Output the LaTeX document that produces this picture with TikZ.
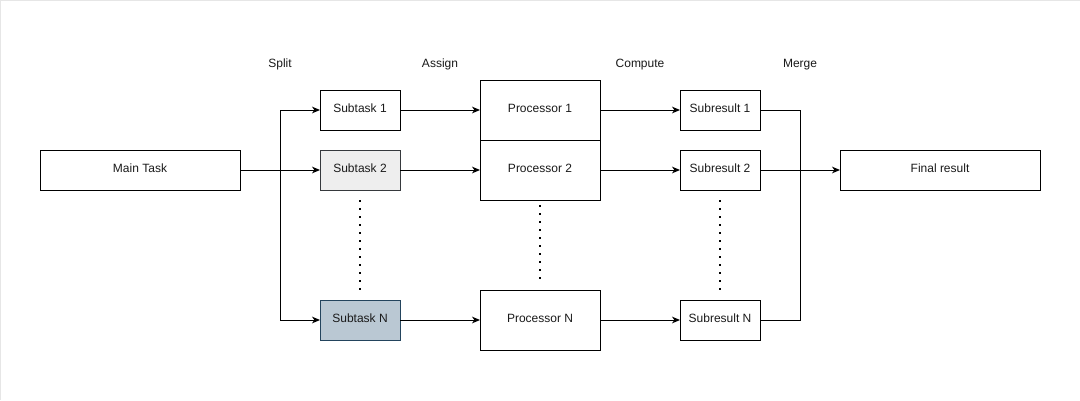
\documentclass[tikz,border=0pt]{standalone}
\usepackage{fontspec}
\setmainfont{Liberation Sans}
\usetikzlibrary{arrows.meta}
\definecolor{grayfill}{HTML}{EEEEEE}
\definecolor{graystroke}{HTML}{36393D}
\definecolor{bluefill}{HTML}{BAC8D3}
\definecolor{bluestroke}{HTML}{23445D}
\definecolor{edgegray}{HTML}{E6E6E6}
\definecolor{txt}{HTML}{1A1A1A}
\tikzset{
  box/.style={draw=black, line width=0.75pt, rectangle, inner sep=0pt, outer sep=0pt,
    minimum height=30pt, font=\fontsize{9}{11}\selectfont, text=txt,
    text height=6.5pt, text depth=2.2pt},
  small/.style={box, minimum width=60pt},
  wide/.style={box, minimum width=150pt},
  proc/.style={box, minimum width=90pt, minimum height=45pt},
  arr/.style={line width=0.75pt, -{Stealth[length=6pt,width=5pt,inset=1.8pt]}},
  ln/.style={line width=0.75pt},
  dotline/.style={line width=1.5pt, dash pattern=on 1.5pt off 4.5pt},
  lbl/.style={font=\fontsize{9}{11}\selectfont, text=txt, inner sep=0pt,
    text height=6.5pt, text depth=2.2pt}
}
\begin{document}
\begin{tikzpicture}[x=0.75pt, y=-0.75pt]
  \fill[white] (0,0) rectangle (1080,400);
  \useasboundingbox (0,0) rectangle (1080,400);
  \draw[edgegray, line width=0.75pt] (0.5,400) -- (0.5,0.5) -- (1080,0.5);

  \node[lbl] (lsplit) at (280,65) {Split};
  \node[lbl] (lassign) at (440,65) {Assign};
  \node[lbl] (lcompute) at (640,65) {Compute};
  \node[lbl] (lmerge) at (800,65) {Merge};

  \node[wide] (main) at (140,170) {Main Task};
  \node[small] (sub1) at (360,110) {Subtask 1};
  \node[small, fill=grayfill, draw=graystroke] (sub2) at (360,170) {Subtask 2};
  \node[small, fill=bluefill, draw=bluestroke] (subN) at (360,320) {Subtask N};

  \node[proc] (p1) at (540,110) {Processor 1};
  \node[proc] (p2) at (540,170) {Processor 2};
  \node[proc] (pN) at (540,320) {Processor N};

  \node[small] (r1) at (720,110) {Subresult 1};
  \node[small] (r2) at (720,170) {Subresult 2};
  \node[small] (rN) at (720,320) {Subresult N};

  \node[wide] (final) at (940,170) {Final result};

  \coordinate (split) at (280,170);
  \coordinate (merge) at (800,170);

  \draw[arr] (main) -- (sub2);
  \draw[arr] (split) |- (sub1);
  \draw[arr] (split) |- (subN);

  \draw[arr] (sub1) -- (sub1 -| p1.west);
  \draw[arr] (sub2) -- (sub2 -| p2.west);
  \draw[arr] (subN) -- (subN -| pN.west);

  \draw[arr] (p1.east |- r1) -- (r1);
  \draw[arr] (p2.east |- r2) -- (r2);
  \draw[arr] (pN.east |- rN) -- (rN);

  \draw[ln] (r1) -| (merge);
  \draw[ln] (rN) -| (merge);
  \draw[arr] (r2) -- (final);

  \draw[dotline] ([yshift=-7.5pt]sub2.south) -- ([yshift=7.5pt]subN.north);
  \draw[dotline] ([yshift=-4pt]p2.south) -- ([yshift=7.5pt]pN.north);
  \draw[dotline] ([yshift=-7.5pt]r2.south) -- ([yshift=7.5pt]rN.north);
\end{tikzpicture}
\end{document}
